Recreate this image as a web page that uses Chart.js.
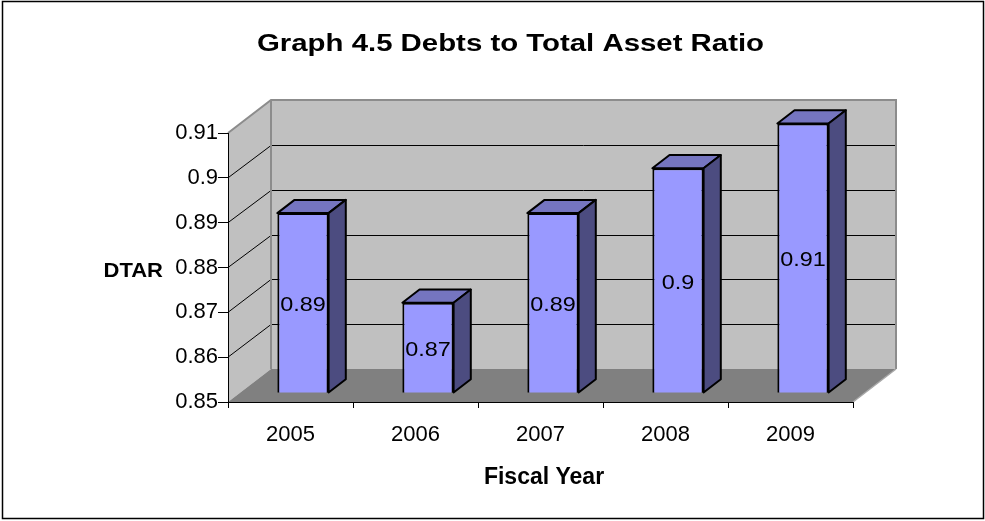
<!DOCTYPE html>
<html>
<head>
<meta charset="utf-8">
<title>Graph 4.5 Debts to Total Asset Ratio</title>
<script src="https://cdn.jsdelivr.net/npm/chart.js@4.4.1/dist/chart.umd.min.js"></script>
<style>
    html, body { margin: 0; padding: 0; background: #fff; overflow: hidden; }
    #wrap { width: 985px; height: 521px; }
</style>
</head>
<body>
<div id="wrap"><canvas id="dtarChart" width="985" height="521"></canvas></div>
<script>
        // --- DATA ---
        const fiscalYears = ['2005', '2006', '2007', '2008', '2009'];
        const dtarValues = [0.89, 0.87, 0.89, 0.90, 0.91];
        const yMin = 0.85;
        const yMax = 0.91;
        const yStep = 0.01;

        // --- 3D LOOK: depth of the box and where the bars sit inside it ---
        const DEPTH_X = 43, DEPTH_Y = -33;
        const BAR_FRONT = 0.29, BAR_BACK = 0.69;
        const FONT = '"Liberation Sans", Arial, sans-serif';

        function poly(ctx, pts) {
            ctx.beginPath();
            ctx.moveTo(pts[0][0], pts[0][1]);
            for (let i = 1; i < pts.length; i++) ctx.lineTo(pts[i][0], pts[i][1]);
            ctx.closePath();
        }

        function stretchedText(ctx, text, x, y, font, sx, align) {
            ctx.save();
            ctx.translate(x, y);
            ctx.scale(sx, 1);
            ctx.font = font;
            ctx.fillStyle = '#000';
            ctx.textAlign = align;
            ctx.textBaseline = 'alphabetic';
            ctx.fillText(text, 0, 0);
            ctx.restore();
        }

        // walls, floor, gridlines and the texts around the plot
        const box3d = {
            id: 'box3d',
            beforeDraw(chart) {
                const ctx = chart.ctx;
                const { left, right, top, bottom } = chart.chartArea;
                const yScale = chart.scales.y;

                ctx.save();
                ctx.fillStyle = '#fff';
                ctx.fillRect(0, 0, chart.width, chart.height);

                ctx.strokeStyle = '#000';
                ctx.lineWidth = 1.5;
                ctx.strokeRect(2.5, 1.5, chart.width - 4, chart.height - 4);

                // back wall + side wall
                ctx.fillStyle = '#c0c0c0';
                ctx.fillRect(left + DEPTH_X, top + DEPTH_Y, right - left, bottom - top);
                poly(ctx, [[left, top], [left + DEPTH_X, top + DEPTH_Y], [left + DEPTH_X, bottom + DEPTH_Y], [left, bottom]]);
                ctx.fill();

                // floor
                ctx.fillStyle = '#808080';
                poly(ctx, [[left, bottom], [right, bottom], [right + DEPTH_X, bottom + DEPTH_Y], [left + DEPTH_X, bottom + DEPTH_Y]]);
                ctx.fill();

                // gridlines on side and back walls
                ctx.strokeStyle = '#000';
                ctx.lineWidth = 1;
                yScale.ticks.forEach(t => {
                    if (t.value <= yMin + 1e-9 || t.value >= yMax - 1e-9) return;
                    const y = yScale.getPixelForValue(t.value);
                    const yb = Math.round(y + DEPTH_Y) + 0.5;
                    ctx.beginPath();
                    ctx.moveTo(left, y);
                    ctx.lineTo(left + DEPTH_X, yb);
                    ctx.lineTo(right + DEPTH_X, yb);
                    ctx.stroke();
                });

                // wall edges
                ctx.strokeStyle = '#8c8c8c';
                ctx.lineWidth = 2;
                ctx.beginPath();
                ctx.moveTo(left, top);
                ctx.lineTo(left + DEPTH_X, top + DEPTH_Y);
                ctx.lineTo(right + DEPTH_X, top + DEPTH_Y);
                ctx.lineTo(right + DEPTH_X, bottom + DEPTH_Y);
                ctx.moveTo(left + DEPTH_X, top + DEPTH_Y);
                ctx.lineTo(left + DEPTH_X, bottom + DEPTH_Y);
                ctx.stroke();
                ctx.strokeStyle = '#a8a8a8';
                ctx.lineWidth = 1.5;
                ctx.beginPath();
                ctx.moveTo(right, bottom);
                ctx.lineTo(right + DEPTH_X, bottom + DEPTH_Y);
                ctx.stroke();

                // title and axis titles
                stretchedText(ctx, 'Graph 4.5 Debts to Total Asset Ratio', 510.5, 51, 'bold 23.5px ' + FONT, 1.25, 'center');
                stretchedText(ctx, 'DTAR', 163, 277, 'bold 20px ' + FONT, 1.1, 'right');
                stretchedText(ctx, 'Fiscal Year', 544, 484, 'bold 23px ' + FONT, 1.0, 'center');
                ctx.restore();
            }
        };

        // bars: front face by Chart.js (shifted into depth), top/side faces and value labels here
        const bars3d = {
            id: 'bars3d',
            beforeDatasetsDraw(chart) {
                chart.ctx.save();
                chart.ctx.translate(DEPTH_X * BAR_FRONT, DEPTH_Y * BAR_FRONT);
            },
            afterDatasetsDraw(chart) {
                const ctx = chart.ctx;
                ctx.restore();
                const fx = DEPTH_X * BAR_FRONT, fy = DEPTH_Y * BAR_FRONT;
                const sx = DEPTH_X * (BAR_BACK - BAR_FRONT), sy = DEPTH_Y * (BAR_BACK - BAR_FRONT);
                const values = chart.data.datasets[0].data;
                const basePx = chart.scales.y.getBasePixel();

                ctx.save();
                ctx.strokeStyle = '#000';
                ctx.lineWidth = 2;
                ctx.lineJoin = 'round';
                chart.getDatasetMeta(0).data.forEach((bar, i) => {
                    const { x, y, width } = bar.getProps(['x', 'y', 'width'], true);
                    const L = x - width / 2 + fx, R = x + width / 2 + fx;
                    const T = y + fy, B = basePx + fy;

                    ctx.fillStyle = '#7575c0';
                    poly(ctx, [[L, T], [R, T], [R + sx, T + sy], [L + sx, T + sy]]);
                    ctx.fill();
                    ctx.stroke();

                    ctx.fillStyle = '#4c4c80';
                    poly(ctx, [[R, T], [R + sx, T + sy], [R + sx, B + sy], [R, B]]);
                    ctx.fill();
                    ctx.stroke();

                    ctx.save();
                    ctx.translate((L + R) / 2, (T + B) / 2 + 3);
                    ctx.scale(1.17, 1);
                    ctx.font = '20px ' + FONT;
                    ctx.fillStyle = '#000';
                    ctx.textAlign = 'center';
                    ctx.textBaseline = 'middle';
                    ctx.fillText(String(values[i]), 0, 0);
                    ctx.restore();
                });
                ctx.restore();
            }
        };

        // --- CHART ---
        const ctxMain = document.getElementById('dtarChart').getContext('2d');
        new Chart(ctxMain, {
            type: 'bar',
            data: {
                labels: fiscalYears,
                datasets: [{
                    label: 'DTAR',
                    data: dtarValues,
                    backgroundColor: '#9999ff',
                    borderColor: '#000',
                    borderWidth: 2,
                    borderSkipped: false,
                    categoryPercentage: 1,
                    barPercentage: 0.41
                }]
            },
            options: {
                responsive: false,
                animation: false,
                devicePixelRatio: 1,
                events: [],
                layout: { padding: { left: 0, top: 133, right: 132, bottom: 0 } },
                plugins: {
                    legend: { display: false },
                    title: { display: false },
                    tooltip: { enabled: false }
                },
                scales: {
                    y: {
                        min: yMin,
                        max: yMax,
                        ticks: {
                            stepSize: yStep,
                            color: '#000',
                            padding: 0,
                            font: { family: FONT, size: 22 },
                            callback: v => String(Number(v.toFixed(2)))
                        },
                        grid: { drawOnChartArea: false, drawTicks: true, tickLength: 10, color: '#000' },
                        border: { display: true, color: '#000', width: 1 },
                        afterFit: s => { s.width = 228; }
                    },
                    x: {
                        ticks: { color: '#000', padding: 14, font: { family: FONT, size: 22 } },
                        grid: { drawOnChartArea: false, drawTicks: true, tickLength: 6, color: '#000', offset: true },
                        border: { display: true, color: '#000', width: 1 },
                        afterFit: s => { s.height = 119; }
                    }
                }
            },
            plugins: [box3d, bars3d]
        });
</script>
</body>
</html>
